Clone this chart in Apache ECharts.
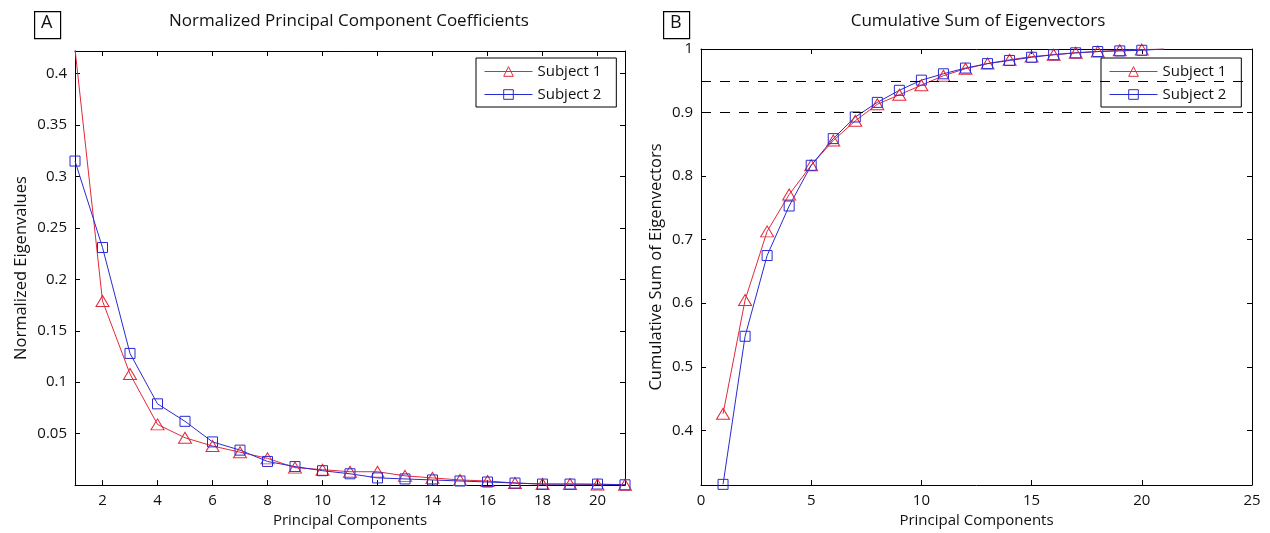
<!DOCTYPE html>
<html>
<head>
<meta charset="utf-8">
<script src="https://cdn.jsdelivr.net/npm/echarts@6/dist/echarts.min.js"></script>
<style>
  html, body { margin: 0; padding: 0; background: #fff; }
  #main { width: 1270px; height: 533px; }
</style>
</head>
<body>
<div id="main"></div>
<script>
const components = [1, 2, 3, 4, 5, 6, 7, 8, 9, 10, 11, 12, 13, 14, 15, 16, 17, 18, 19, 20, 21];
const normSubject1 = [0.424, 0.179, 0.108, 0.059, 0.046, 0.038, 0.032, 0.026, 0.017, 0.015, 0.013,
    0.013, 0.009, 0.007, 0.005, 0.004, 0.002, 0.001, 0.001, 0.0005, 0.0003];
const normSubject2 = [0.315, 0.231, 0.128, 0.079, 0.062, 0.042, 0.034, 0.023, 0.018, 0.014, 0.011,
    0.007, 0.006, 0.005, 0.004, 0.003, 0.002, 0.001, 0.001, 0.001, 0.0003];
const cumSubject1 = [0.426, 0.605, 0.713, 0.771, 0.817, 0.856, 0.887, 0.913, 0.928, 0.943, 0.958,
    0.969, 0.977, 0.983, 0.988, 0.991, 0.994, 0.996, 0.998, 0.999, 1.0];
const cumSubject2 = [0.315, 0.548, 0.675, 0.753, 0.817, 0.859, 0.893, 0.916, 0.935, 0.951, 0.961,
    0.970, 0.977, 0.982, 0.987, 0.991, 0.994, 0.996, 0.997, 0.998, 1.0];
const thresholds = [0.95, 0.9];

const xTicksA = [2, 4, 6, 8, 10, 12, 14, 16, 18, 20];
const yTicksA = [0.05, 0.1, 0.15, 0.2, 0.25, 0.3, 0.35, 0.4];
const xTicksB = [0, 5, 10, 15, 20, 25];
const yTicksB = [0.4, 0.5, 0.6, 0.7, 0.8, 0.9, 1];

const FONT = "Open Sans";
const RED = "#e3283a";
const BLUE = "#2a2ad2";

const chart = echarts.init(document.getElementById("main"));

function pairs(ys, lastNoSymbol) {
    return ys.map((y, i) => {
        if (lastNoSymbol && i === ys.length - 1) {
            return { value: [components[i], y], symbol: "none" };
        }
        return [components[i], y];
    });
}

function axis(pos, gridIndex, min, max, ticks, labels, extra) {
    return Object.assign({
        type: "value",
        gridIndex: gridIndex,
        position: pos,
        min: min,
        max: max,
        splitLine: { show: false },
        axisLine: { show: true, onZero: false, lineStyle: { color: "#000", width: 1 } },
        axisTick: { show: true, inside: true, length: 5, customValues: ticks, lineStyle: { color: "#000" } },
        axisLabel: labels ? {
            show: true, customValues: ticks, color: "#111", fontSize: 15, fontFamily: FONT, margin: 8
        } : { show: false },
    }, extra || {});
}

function subjectSeries(name, color, symbol, size, xi, yi, data) {
    return {
        name: name,
        type: "line",
        xAxisIndex: xi,
        yAxisIndex: yi,
        data: data,
        symbol: symbol,
        symbolSize: size,
        showAllSymbol: true,
        lineStyle: { color: color, width: 1 },
        itemStyle: { color: "rgba(255,255,255,0)", borderColor: color, borderWidth: 1 },
        emphasis: { disabled: true },
        animation: false,
    };
}

function legendItem(name, color) {
    return {
        name: name,
        lineStyle: { color: color, width: 1 },
        itemStyle: { color: "rgba(255,255,255,0)", borderColor: color, borderWidth: 1 },
    };
}

function legendAt(left) {
    return {
        data: [legendItem("Subject 1", RED), legendItem("Subject 2", BLUE)],
        orient: "vertical",
        left: left,
        top: 58,
        padding: [6, 15, 5, 8],
        itemGap: 8,
        itemWidth: 48,
        itemHeight: 12,
        selectedMode: false,
        backgroundColor: "#fff",
        borderColor: "#000",
        borderWidth: 1,
        textStyle: { fontFamily: FONT, fontSize: 15, color: "#111" },
    };
}

const xNameStyle = { fontFamily: FONT, fontSize: 15, color: "#111" };
const yNameStyle = { fontFamily: FONT, fontSize: 16.5, color: "#111" };

const option = {
    backgroundColor: "#fff",
    animation: false,
    title: [
        { text: "Normalized Principal Component Coefficients", left: 344, top: 8, textAlign: "center",
          textStyle: { fontFamily: FONT, fontSize: 17, fontWeight: "normal", color: "#111" } },
        { text: "Cumulative Sum of Eigenvectors", left: 973, top: 8, textAlign: "center",
          textStyle: { fontFamily: FONT, fontSize: 17, fontWeight: "normal", color: "#111" } },
    ],
    legend: [legendAt(476), legendAt(1101)],
    grid: [
        { left: 75, top: 51, right: 645, bottom: 47 },
        { left: 701, top: 49, right: 18, bottom: 48 },
    ],
    xAxis: [
        axis("bottom", 0, 1, 21, xTicksA, true, {
            name: "Principal Components", nameLocation: "middle", nameGap: 27, nameTextStyle: xNameStyle }),
        axis("top", 0, 1, 21, xTicksA, false),
        axis("bottom", 1, 0, 25, xTicksB, true, {
            name: "Principal Components", nameLocation: "middle", nameGap: 27, nameTextStyle: xNameStyle }),
        axis("top", 1, 0, 25, xTicksB, false),
    ],
    yAxis: [
        axis("left", 0, 0, 0.422, yTicksA, true, {
            name: "Normalized Eigenvalues", nameLocation: "middle", nameGap: 45, nameTextStyle: yNameStyle }),
        axis("right", 0, 0, 0.422, yTicksA, false),
        axis("left", 1, 0.314, 1, yTicksB, true, {
            name: "Cumulative Sum of Eigenvectors", nameLocation: "middle", nameGap: 36, nameTextStyle: yNameStyle }),
        axis("right", 1, 0.314, 1, yTicksB, false),
    ],
    series: [
        subjectSeries("Subject 1", RED, "triangle", [13, 11], 0, 0, pairs(normSubject1, false)),
        subjectSeries("Subject 2", BLUE, "rect", 10, 0, 0, pairs(normSubject2, false)),
        subjectSeries("Subject 1", RED, "triangle", [13, 11], 2, 2, pairs(cumSubject1, true)),
        subjectSeries("Subject 2", BLUE, "rect", 10, 2, 2, pairs(cumSubject2, true)),
        {
            name: "thresholds",
            type: "line",
            xAxisIndex: 2,
            yAxisIndex: 2,
            data: [],
            symbol: "none",
            animation: false,
            markLine: {
                silent: true,
                symbol: "none",
                label: { show: false },
                lineStyle: { color: "#000", type: [10, 9], width: 1 },
                data: thresholds.map(t => ({ yAxis: t })),
                animation: false,
            },
        },
    ],
    graphic: [
        { type: "rect", left: 34, top: 11, shape: { width: 26, height: 27 },
          style: { fill: "#fff", stroke: "#000", lineWidth: 1.2 } },
        { type: "text", left: 41, top: 14, style: { text: "A", font: "18px 'Open Sans'", fill: "#111" } },
        { type: "rect", left: 663, top: 11, shape: { width: 26, height: 27 },
          style: { fill: "#fff", stroke: "#000", lineWidth: 1.2 } },
        { type: "text", left: 670, top: 14, style: { text: "B", font: "18px 'Open Sans'", fill: "#111" } },
    ],
};

chart.setOption(option);
</script>
</body>
</html>
